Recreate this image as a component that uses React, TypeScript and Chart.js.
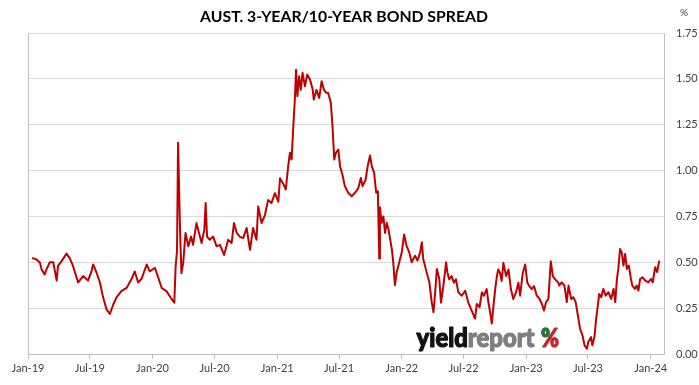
import React, { useEffect, useRef } from "react";
import { Chart, registerables } from "chart.js";

Chart.register(...registerables);

const chartTitle = "AUST. 3-YEAR/10-YEAR BOND SPREAD";
const unitLabel = "%";

// x-axis tick positions (days since 1 Jan 2019) and labels
const tickDays = [0, 181, 365, 547, 731, 912, 1096, 1277, 1461, 1642, 1826];
const tickLabels = ["Jan-19", "Jul-19", "Jan-20", "Jul-20", "Jan-21", "Jul-21", "Jan-22", "Jul-22", "Jan-23", "Jul-23", "Jan-24"];
const xMaxDay = 1865;

// series: days since 1 Jan 2019
const dayOffsets = [
  12, 25, 35, 40, 49, 54, 64, 74, 84, 88, 98, 113, 123, 132, 147, 162, 176, 186, 191, 201,
  211, 220, 230, 240, 250, 260, 274, 289, 304, 313, 323, 333, 348, 357, 372, 382, 392, 406, 421, 429,
  433, 437, 440, 446, 450, 455, 462, 470, 478, 484, 494, 499, 509, 517, 521, 525, 533, 543, 553, 563,
  575, 587, 597, 604, 612, 621, 631, 641, 651, 660, 670, 675, 685, 695, 704, 714, 724, 734, 739, 748,
  756, 763, 768, 773, 778, 783, 786, 790, 795, 800, 805, 812, 819, 827, 835, 838, 846, 854, 861, 868,
  874, 880, 888, 893, 898, 903, 910, 915, 923, 929, 939, 949, 959, 969, 976, 981, 990, 996, 1003, 1008,
  1015, 1021, 1026, 1030, 1032, 1037, 1042, 1047, 1052, 1057, 1062, 1067, 1071, 1076, 1081, 1086, 1091, 1096, 1103, 1110,
  1118, 1125, 1135, 1142, 1150, 1155, 1159, 1169, 1177, 1184, 1189, 1194, 1199, 1206, 1211, 1218, 1226, 1230, 1235, 1242,
  1249, 1255, 1262, 1272, 1282, 1291, 1301, 1311, 1316, 1324, 1331, 1337, 1345, 1350, 1355, 1360, 1365, 1370, 1375, 1379,
  1384, 1389, 1394, 1402, 1409, 1416, 1423, 1431, 1438, 1443, 1451, 1458, 1464, 1470, 1477, 1484, 1492, 1500, 1507, 1513,
  1519, 1526, 1533, 1539, 1546, 1555, 1558, 1565, 1573, 1580, 1585, 1593, 1599, 1606, 1614, 1619, 1626, 1632, 1639, 1643,
  1651, 1655, 1661, 1666, 1671, 1675, 1681, 1687, 1694, 1702, 1710, 1717, 1722, 1727, 1731, 1736, 1741, 1746, 1751, 1756,
  1762, 1768, 1772, 1780, 1785, 1790, 1795, 1802, 1810, 1819, 1827, 1832, 1839, 1845, 1851,
];

// series: 3-year / 10-year spread, %
const spreadValues = [
  0.524, 0.515, 0.497, 0.46, 0.434, 0.46, 0.5, 0.5, 0.4, 0.48, 0.505, 0.547, 0.52, 0.48, 0.39, 0.425, 0.4, 0.45, 0.488, 0.443,
  0.39, 0.31, 0.245, 0.218, 0.27, 0.31, 0.343, 0.36, 0.41, 0.45, 0.39, 0.41, 0.488, 0.45, 0.47, 0.416, 0.36, 0.343, 0.3, 0.28,
  0.48, 0.56, 1.152, 0.66, 0.44, 0.495, 0.66, 0.587, 0.64, 0.595, 0.714, 0.678, 0.605, 0.678, 0.823, 0.64, 0.623, 0.64, 0.587, 0.595,
  0.54, 0.623, 0.605, 0.714, 0.66, 0.64, 0.632, 0.687, 0.568, 0.687, 0.623, 0.804, 0.714, 0.759, 0.84, 0.823, 0.877, 0.83, 0.958, 0.93,
  0.897, 1.024, 1.097, 1.06, 1.24, 1.405, 1.55, 1.405, 1.514, 1.44, 1.533, 1.46, 1.523, 1.496, 1.44, 1.387, 1.44, 1.396, 1.487, 1.44,
  1.424, 1.424, 1.37, 1.24, 1.06, 1.097, 1.115, 1.024, 0.97, 0.915, 0.879, 0.86, 0.879, 0.906, 0.96, 0.915, 0.95, 1.024, 1.082, 1.024,
  0.988, 0.879, 0.888, 0.52, 0.8, 0.715, 0.75, 0.66, 0.715, 0.68, 0.625, 0.57, 0.5, 0.375, 0.445, 0.48, 0.518, 0.554, 0.652, 0.59,
  0.554, 0.5, 0.536, 0.509, 0.554, 0.609, 0.518, 0.445, 0.39, 0.28, 0.228, 0.337, 0.464, 0.41, 0.28, 0.37, 0.5, 0.443, 0.407, 0.425,
  0.389, 0.407, 0.336, 0.318, 0.345, 0.282, 0.237, 0.193, 0.273, 0.255, 0.336, 0.318, 0.354, 0.282, 0.228, 0.166, 0.264, 0.354, 0.425, 0.461,
  0.443, 0.398, 0.497, 0.425, 0.461, 0.354, 0.3, 0.336, 0.389, 0.318, 0.443, 0.488, 0.39, 0.37, 0.354, 0.37, 0.318, 0.3, 0.273, 0.237,
  0.282, 0.3, 0.505, 0.425, 0.407, 0.389, 0.373, 0.391, 0.373, 0.283, 0.373, 0.3, 0.31, 0.283, 0.192, 0.137, 0.101, 0.047, 0.029, 0.065,
  0.092, 0.047, 0.092, 0.192, 0.264, 0.327, 0.31, 0.355, 0.318, 0.337, 0.3, 0.355, 0.283, 0.409, 0.464, 0.572, 0.554, 0.482, 0.545, 0.464,
  0.482, 0.409, 0.373, 0.355, 0.373, 0.346, 0.409, 0.418, 0.4, 0.391, 0.409, 0.391, 0.473, 0.446, 0.509,
];

const yMin = 0;
const yMax = 1.75;
const yStep = 0.25;

const FONT = "Lato, 'Open Sans', sans-serif";

const decorPlugin = {
  id: "decor",
  beforeDatasetsDraw(chart: any) {
    const { ctx, chartArea } = chart;
    ctx.save();
    // left border of plot area
    ctx.strokeStyle = "#bfbfbf";
    ctx.lineWidth = 1;
    ctx.beginPath();
    ctx.moveTo(Math.round(chartArea.left) + 0.5, chartArea.top);
    ctx.lineTo(Math.round(chartArea.left) + 0.5, chartArea.bottom);
    ctx.stroke();

    // watermark
    const baseY = chartArea.bottom - 7;
    const startX = chartArea.left + (chartArea.right - chartArea.left) * 0.611;
    ctx.font = `900 26px ${FONT}`;
    ctx.textBaseline = "alphabetic";
    ctx.textAlign = "left";
    ctx.lineJoin = "round";
    const wYield = ctx.measureText("yield").width;
    const wReport = ctx.measureText("report").width;
    const sx = 118 / (wYield + wReport);
    ctx.save();
    ctx.translate(startX, baseY);
    ctx.scale(sx, 1);
    ctx.lineWidth = 1.2;
    ctx.fillStyle = "#111111";
    ctx.strokeStyle = "#111111";
    ctx.fillText("yield", 0, 0);
    ctx.strokeText("yield", 0, 0);
    ctx.fillStyle = "#7f7f7f";
    ctx.strokeStyle = "#7f7f7f";
    ctx.fillText("report", wYield, 0);
    ctx.strokeText("report", wYield, 0);
    ctx.restore();

    // percent glyph: red with green upper-left circle
    const pX = startX + 124.5;
    const wPct = ctx.measureText("%").width;
    const psx = 18 / wPct;
    ctx.save();
    ctx.translate(pX, baseY);
    ctx.scale(psx, 1);
    ctx.lineWidth = 1.2;
    ctx.fillStyle = "#c0272d";
    ctx.strokeStyle = "#c0272d";
    ctx.fillText("%", 0, 0);
    ctx.strokeText("%", 0, 0);
    ctx.beginPath();
    ctx.rect(-2, -22, wPct * 0.48 + 2, 12);
    ctx.clip();
    ctx.fillStyle = "#1e7b34";
    ctx.strokeStyle = "#1e7b34";
    ctx.fillText("%", 0, 0);
    ctx.strokeText("%", 0, 0);
    ctx.restore();
    ctx.restore();
  },
  afterDraw(chart: any) {
    const { ctx, chartArea } = chart;
    ctx.save();
    ctx.fillStyle = "#000000";
    ctx.font = `bold 15px ${FONT}`;
    ctx.textAlign = "center";
    ctx.textBaseline = "middle";
    const w = ctx.measureText(chartTitle).width;
    const size = 15 * Math.min(1.15, 288 / w);
    ctx.font = `bold ${size.toFixed(2)}px ${FONT}`;
    ctx.fillText(chartTitle, 344, 17);
    ctx.fillStyle = "#404040";
    ctx.font = `10px ${FONT}`;
    ctx.fillText(unitLabel, chartArea.right + 20, 13);
    ctx.restore();
  },
};

export default function App() {
  const canvasRef = useRef<HTMLCanvasElement>(null);

  useEffect(() => {
    const canvas = canvasRef.current;
    if (!canvas) return;
    const chart = new Chart(canvas, {
      type: "line",
      data: {
        datasets: [
          {
            data: dayOffsets.map((d, i) => ({ x: d, y: spreadValues[i] })),
            borderColor: "#C00000",
            borderWidth: 2,
            pointRadius: 0,
            tension: 0,
            borderJoinStyle: "round",
            fill: false,
          },
        ],
      },
      options: {
        animation: false,
        responsive: false,
        maintainAspectRatio: false,
        layout: { padding: { top: 33, left: 28, right: 0, bottom: 0 } },
        plugins: {
          legend: { display: false },
          tooltip: { enabled: false },
          title: { display: false },
        },
        scales: {
          x: {
            type: "linear",
            min: 0,
            max: xMaxDay,
            afterBuildTicks: (scale: any) => {
              scale.ticks = tickDays.map((v) => ({ value: v }));
            },
            afterFit: (scale: any) => {
              scale.height = 31;
            },
            ticks: {
              autoSkip: false,
              maxRotation: 0,
              minRotation: 0,
              padding: 3,
              color: "#404040",
              font: { family: FONT, size: 11 },
              callback: (value: any) => {
                const i = tickDays.indexOf(Number(value));
                return i >= 0 ? tickLabels[i] : "";
              },
            },
            grid: {
              drawOnChartArea: false,
              drawTicks: true,
              tickLength: 5,
              color: "#bfbfbf",
            },
            border: { color: "#bfbfbf" },
          },
          y: {
            position: "right",
            min: yMin,
            max: yMax,
            afterFit: (scale: any) => {
              scale.width = 35;
            },
            ticks: {
              stepSize: yStep,
              padding: 12,
              color: "#404040",
              font: { family: FONT, size: 11 },
              callback: (value: any) => Number(value).toFixed(2),
            },
            grid: { color: "#d9d9d9", drawTicks: false },
            border: { color: "#bfbfbf" },
          },
        },
      } as any,
      plugins: [decorPlugin],
    });
    return () => chart.destroy();
  }, []);

  return (
    <div style={{ position: "absolute", left: 0, top: 0, width: 699, height: 385, background: "#ffffff" }}>
      <canvas ref={canvasRef} width={699} height={385} style={{ display: "block" }} />
    </div>
  );
}
